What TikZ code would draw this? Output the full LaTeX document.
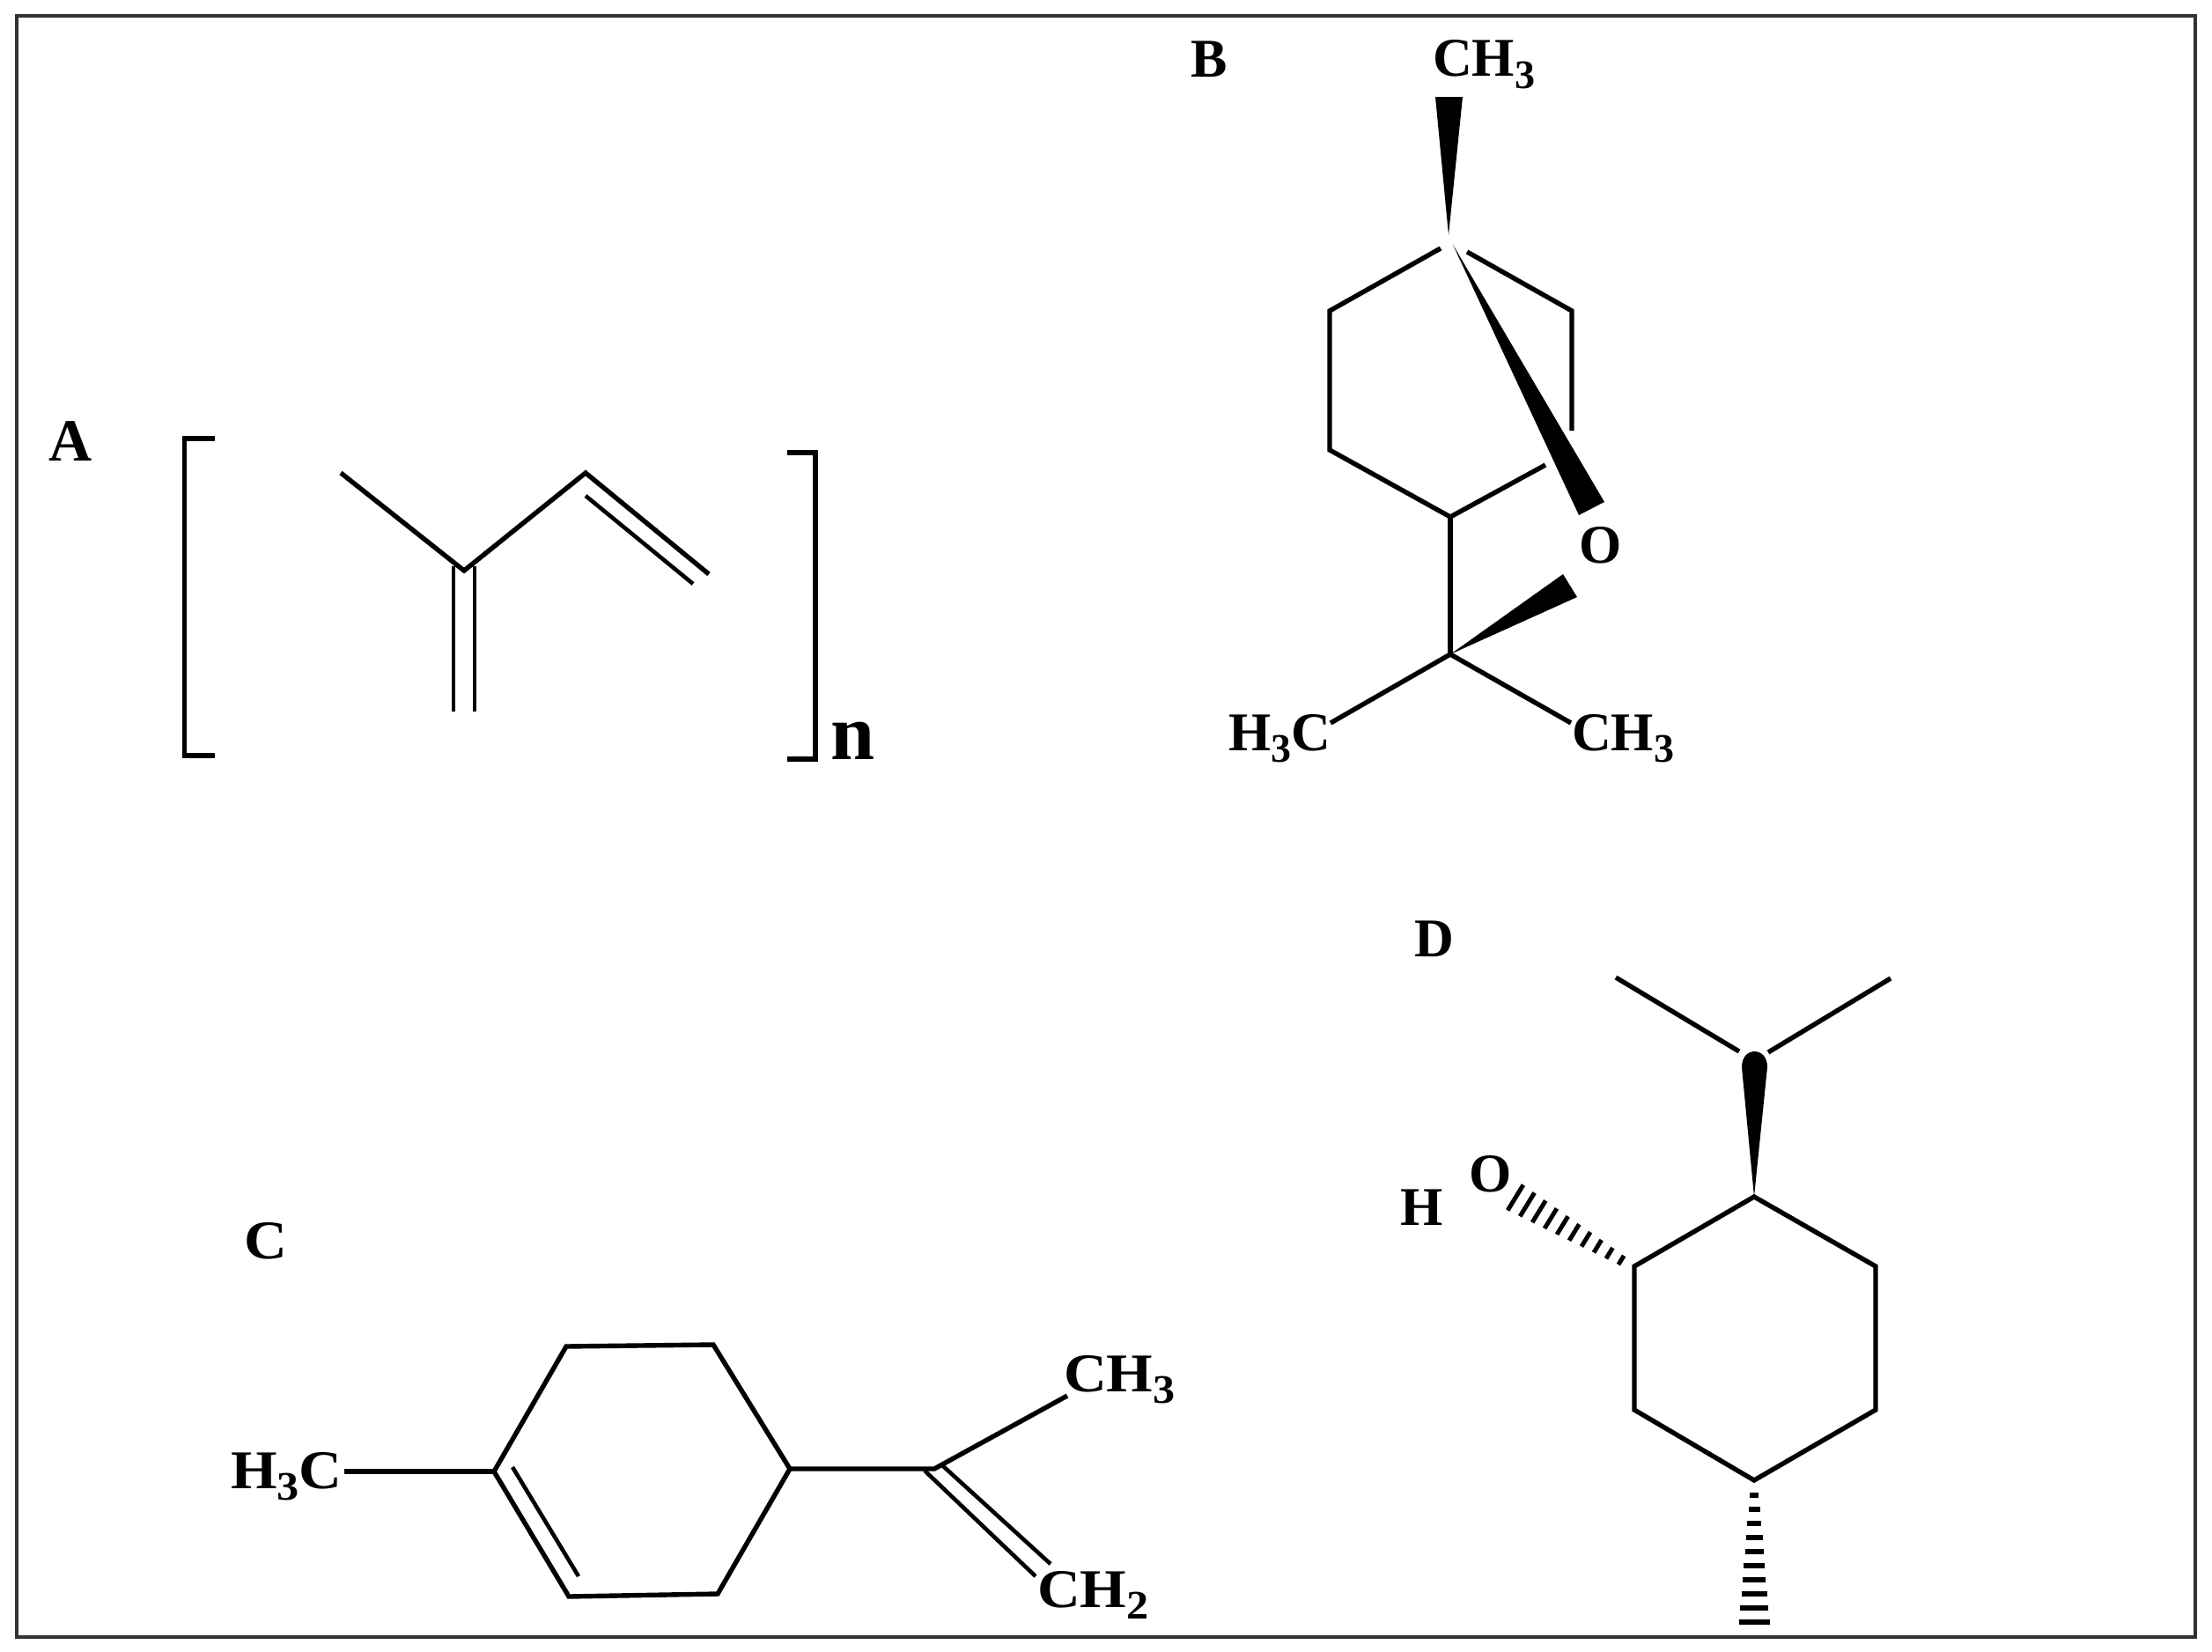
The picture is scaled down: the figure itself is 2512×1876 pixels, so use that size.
\documentclass[tikz,border=0pt]{standalone}
\usepackage{fontspec}
\setmainfont{Liberation Serif}
\usetikzlibrary{calc}
\newcommand\subs[1]{\raisebox{-0.22em}{\fontsize{46}{46}\selectfont #1}}
\newcommand\wide[1]{\scalebox{1.09}[1]{#1}}
\tikzset{
  bond/.style={line width=5.4pt,black,line join=miter,line cap=butt},
  thinbond/.style={line width=4.6pt,black,line cap=butt},
  lab/.style={inner sep=0pt,outer sep=0pt,anchor=base west,font=\fontsize{62}{62}\selectfont\bfseries},
  wedge/.style={fill=black,draw=none},
  hashline/.style={line width=5.6pt,black,line cap=butt},
  frameline/.style={line width=3.4pt,draw={rgb,255:red,50;green,50;blue,50}}
}
\begin{document}
\begin{tikzpicture}[x=1pt,y=-1pt]
\useasboundingbox (0,0) rectangle (2512,1876);
\fill[white] (0,0) rectangle (2512,1876);
\draw[frameline] (19,18) rectangle (2493,1859);

% ---------- A
\node[lab,font=\fontsize{68}{68}\selectfont\bfseries] (labA) at (55,523) {A};
\coordinate (lt) at (244,498); \coordinate (ltc) at (209.5,498);
\coordinate (lbc) at (209.5,858); \coordinate (lb) at (244,858);
\coordinate (rt) at (894,514); \coordinate (rtc) at (926,514);
\coordinate (rbc) at (926,862); \coordinate (rb) at (894,862);
\draw[bond] (lt) -- (ltc) -- (lbc) -- (lb);
\draw[bond] (rt) -- (rtc) -- (rbc) -- (rb);
\coordinate (a1) at (387,537); \coordinate (a2) at (527,648);
\coordinate (a3) at (665,537); \coordinate (a4) at (805,652);
\coordinate (a3i) at (665,563); \coordinate (a4i) at (787,663);
\coordinate (a5) at (515,643); \coordinate (a5e) at (515,808);
\coordinate (a6) at (539,643); \coordinate (a6e) at (539,808);
\draw[bond] (a1) -- (a2) -- (a3) -- (a4);
\draw[thinbond] (a3i) -- (a4i);
\draw[thinbond] (a5) -- (a5e);
\draw[thinbond] (a6) -- (a6e);
\node[lab,font=\fontsize{90}{90}\selectfont\bfseries] (labn) at (943,862) {n};

% ---------- B
\node[lab] (labB) at (1352,88) {B};
\node[lab] (bCH) at (1627,87) {CH\subs{3}};
\coordinate (b1) at (1645,267); \coordinate (b1l) at (1630,110); \coordinate (b1r) at (1661,110);
\fill[wedge] (b1) -- (b1l) -- (b1r) -- cycle;
\coordinate (b2) at (1636,282); \coordinate (b3) at (1510,353); \coordinate (b4) at (1510,511);
\coordinate (b5) at (1647,587); \coordinate (b6) at (1755,528);
\coordinate (b7) at (1666,286); \coordinate (b8) at (1785,353); \coordinate (b9) at (1785,489);
\draw[bond] (b2) -- (b3) -- (b4) -- (b5) -- (b6);
\draw[bond] (b7) -- (b8) -- (b9);
\coordinate (b10) at (1650,278); \coordinate (b11) at (1793,585); \coordinate (b12) at (1822,570);
\fill[wedge] (b10) -- (b11) -- (b12) -- cycle;
\node[lab] (bO) at (1793,639) {O};
\coordinate (b13) at (1647,743);
\draw[bond] (b5) -- (b13);
\coordinate (b14) at (1775,652); \coordinate (b15) at (1791,678);
\fill[wedge] (b13) -- (b14) -- (b15) -- cycle;
\node[lab] (bHC) at (1395,852) {H\subs{3}C};
\node[lab] (bCHr) at (1785,852) {CH\subs{3}};
\coordinate (b16) at (1511,821); \coordinate (b17) at (1784,821);
\draw[bond] (b16) -- (b13) -- (b17);

% ---------- C
\node[lab] (labC) at (277,1429) {\wide{C}};
\coordinate (c1) at (643,1529); \coordinate (c2) at (810,1527); \coordinate (c3) at (897,1668);
\coordinate (c4) at (815,1810); \coordinate (c5) at (646,1813); \coordinate (c6) at (561,1671);
\draw[bond] (c6) -- (c1) -- (c2) -- (c3) -- (c4) -- (c5) -- cycle;
\coordinate (c6i) at (582,1666); \coordinate (c5i) at (657,1790);
\draw[thinbond] (c6i) -- (c5i);
\node[lab] (cHC) at (262,1690) {\wide{H\subs{3}C}};
\coordinate (c7) at (391,1671);
\draw[bond] (c7) -- (c6);
\coordinate (c8) at (1061,1668); \coordinate (c9) at (1212,1585);
\draw[bond] (c3) -- (c8) -- (c9);
\coordinate (c10) at (1050,1670); \coordinate (c11) at (1176,1790);
\coordinate (c12) at (1070,1664); \coordinate (c13) at (1193,1776);
\draw[thinbond] (c10) -- (c11);
\draw[thinbond] (c12) -- (c13);
\node[lab] (cCH) at (1208,1580) {\wide{CH\subs{3}}};
\node[lab] (cCH2) at (1178,1825) {\wide{CH\subs{2}}};

% ---------- D
\node[lab] (labD) at (1606,1086) {D};
\coordinate (d1) at (1992,1359); \coordinate (d2) at (2130,1438); \coordinate (d3) at (2130,1601);
\coordinate (d4) at (1992,1681); \coordinate (d5) at (1856,1601); \coordinate (d6) at (1856,1438);
\draw[bond] (d1) -- (d2) -- (d3) -- (d4) -- (d5) -- (d6) -- cycle;
\coordinate (d7) at (1835,1110); \coordinate (d8) at (1975,1194);
\coordinate (d9) at (2147,1111); \coordinate (d10) at (2008,1195);
\draw[bond] (d7) -- (d8);
\draw[bond] (d9) -- (d10);
\coordinate (d11) at (1978,1212); \coordinate (d12) at (2007,1212);
\fill[wedge] (d1) -- (d11) .. controls (1978,1200) and (1985,1194) .. (1992.5,1194)
   .. controls (2000,1194) and (2007,1200) .. (d12) -- cycle;
\foreach \i in {0,...,9}{
  \pgfmathsetmacro\cx{1841-\i*120/9}
  \pgfmathsetmacro\cy{1431-\i*71/9}
  \pgfmathsetmacro\hx{0.52*(6+\i*11/9)}
  \pgfmathsetmacro\hy{0.85*(6+\i*11/9)}
  \draw[hashline,line width=5pt] (\cx-\hx,\cy+\hy) -- (\cx+\hx,\cy-\hy);
}
\foreach \y/\w in {1698/5,1714/6.5,1730/8,1746/9.5,1762/10.5,1778/12,1794/13,1810/14.5,1826/16,1842/17.5}{
  \draw[hashline] (1992-\w,\y) -- (1992+\w,\y);
}
\node[lab] (dO) at (1668,1353) {O};
\node[lab] (dH) at (1590,1391) {H};
\end{tikzpicture}
\end{document}
